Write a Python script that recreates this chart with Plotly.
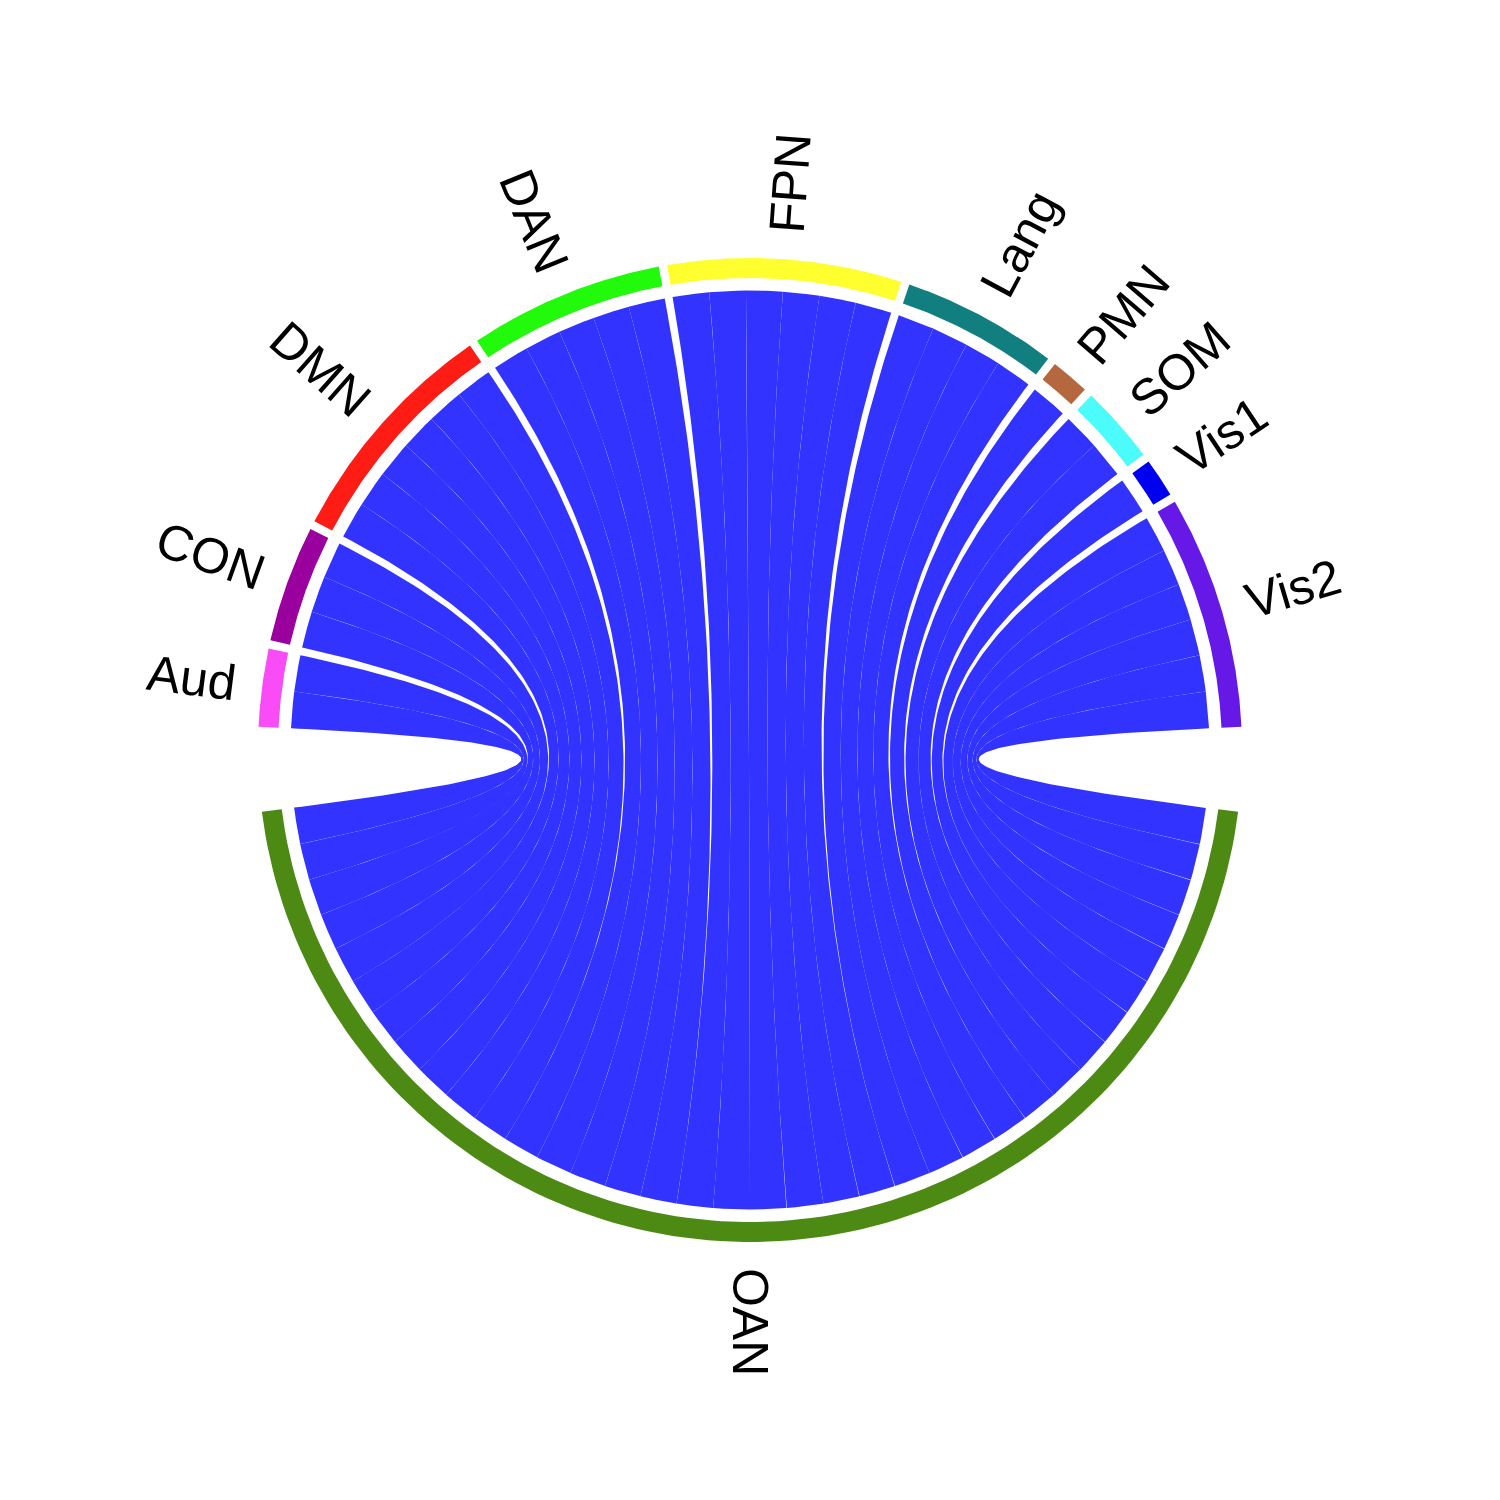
import numpy as np
import plotly.graph_objects as go

# ---------------- data ----------------
networks = ["Aud", "CON", "DMN", "DAN", "FPN", "Lang", "PMN", "SOM", "Vis1", "Vis2"]
links_per_network = [2, 3, 6, 5, 6, 4, 1, 2, 1, 6]   # number of OAN links to each network
link_weight = [1.0] * sum(links_per_network)        # every link has the same weight
hub = "OAN"

sector_colors = {
    "Aud": "#F94CF6", "CON": "#9A009E", "DMN": "#FF1C14", "DAN": "#22FA0B",
    "FPN": "#FFFF30", "Lang": "#117E80", "PMN": "#B5673D", "SOM": "#4BFCFA",
    "Vis1": "#0000F0", "Vis2": "#6619E6", "OAN": "#4C8A14",
}
ribbon_color = "#3333FF"

# ---------------- geometry (styles / layout) ----------------
R_RIB, R_IN, R_OUT, R_LAB = 459.5, 472.0, 492.0, 521.0
GAP_S, GAP_B = 1.0, 9.9
FONT_SIZE = 50

total = sum(link_weight)
unit = (360.0 - (len(networks) - 1) * GAP_S - 2 * GAP_B) / (2 * total)
hub_start = 270.0 - total * unit / 2.0
top_start = hub_start - GAP_B


def pol(r, deg):
    t = np.deg2rad(deg)
    return r * np.cos(t), r * np.sin(t)


def arc(r, a0, a1, n=80):
    a = np.linspace(a0, a1, n)
    return list(r * np.cos(np.deg2rad(a))), list(r * np.sin(np.deg2rad(a)))


def bezier(p0, p2, n=120):
    t = np.linspace(0, 1, n)
    x = (1 - t) ** 2 * p0[0] + t ** 2 * p2[0]
    y = (1 - t) ** 2 * p0[1] + t ** 2 * p2[1]
    return list(x), list(y)


fig = go.Figure()


def add_poly(xs, ys, color):
    fig.add_trace(go.Scatter(x=xs + [xs[0]], y=ys + [ys[0]], mode="lines",
                             fill="toself", fillcolor=color,
                             line=dict(width=0, color=color),
                             hoverinfo="skip", showlegend=False))


# ribbons
s = 0.0
k = 0
sector_spans = {}
for i, (name, n) in enumerate(zip(networks, links_per_network)):
    sec_a0 = top_start - i * GAP_S - s * unit
    for j in range(n):
        w = link_weight[k]
        s0, s1 = s, s + w
        t0 = top_start - i * GAP_S - s0 * unit
        t1 = top_start - i * GAP_S - s1 * unit
        b0 = hub_start + s0 * unit
        b1 = hub_start + s1 * unit
        xs, ys = arc(R_RIB, t0, t1)
        bx, by = bezier(pol(R_RIB, t1), pol(R_RIB, b1))
        xs += bx; ys += by
        ax, ay = arc(R_RIB, b1, b0)
        xs += ax; ys += ay
        bx, by = bezier(pol(R_RIB, b0), pol(R_RIB, t0))
        xs += bx; ys += by
        add_poly(xs, ys, ribbon_color)
        s = s1
        k += 1
    sec_a1 = top_start - i * GAP_S - s * unit
    sector_spans[name] = (sec_a1, sec_a0)
sector_spans[hub] = (hub_start, hub_start + total * unit)

# outer track
for name, (a0, a1) in sector_spans.items():
    ox, oy = arc(R_OUT, a0, a1, 120)
    ix, iy = arc(R_IN, a1, a0, 120)
    add_poly(ox + ix, oy + iy, sector_colors[name])

# labels
adv = {"A": .667, "u": .556, "d": .556, "C": .722, "O": .778, "N": .722, "D": .722,
       "M": .833, "F": .611, "P": .667, "L": .556, "a": .556, "n": .556, "g": .556,
       "S": .667, "V": .667, "i": .222, "s": .5, "1": .556, "2": .556}
for name, (a0, a1) in sector_spans.items():
    mid = (a0 + a1) / 2.0
    w = sum(adv.get(c, .6) for c in name) * FONT_SIZE * 0.94
    rc = R_LAB + w / 2.0
    x, y = pol(rc, mid)
    if np.cos(np.deg2rad(mid)) >= -1e-9:
        ang = -mid
    else:
        ang = 180.0 - mid
    ang = (ang + 180.0) % 360.0 - 180.0
    fig.add_annotation(x=x, y=y, text=name, showarrow=False, textangle=ang,
                       xanchor="center", yanchor="middle",
                       font=dict(family="Liberation Sans, Arial, sans-serif",
                                 size=FONT_SIZE, color="black"))

fig.update_layout(width=1500, height=1500, margin=dict(l=0, r=0, t=0, b=0),
                  paper_bgcolor="white", plot_bgcolor="white", showlegend=False,
                  xaxis=dict(range=[-750, 750], visible=False, fixedrange=True),
                  yaxis=dict(range=[-750, 750], visible=False, fixedrange=True))
fig.write_html("out.html")
